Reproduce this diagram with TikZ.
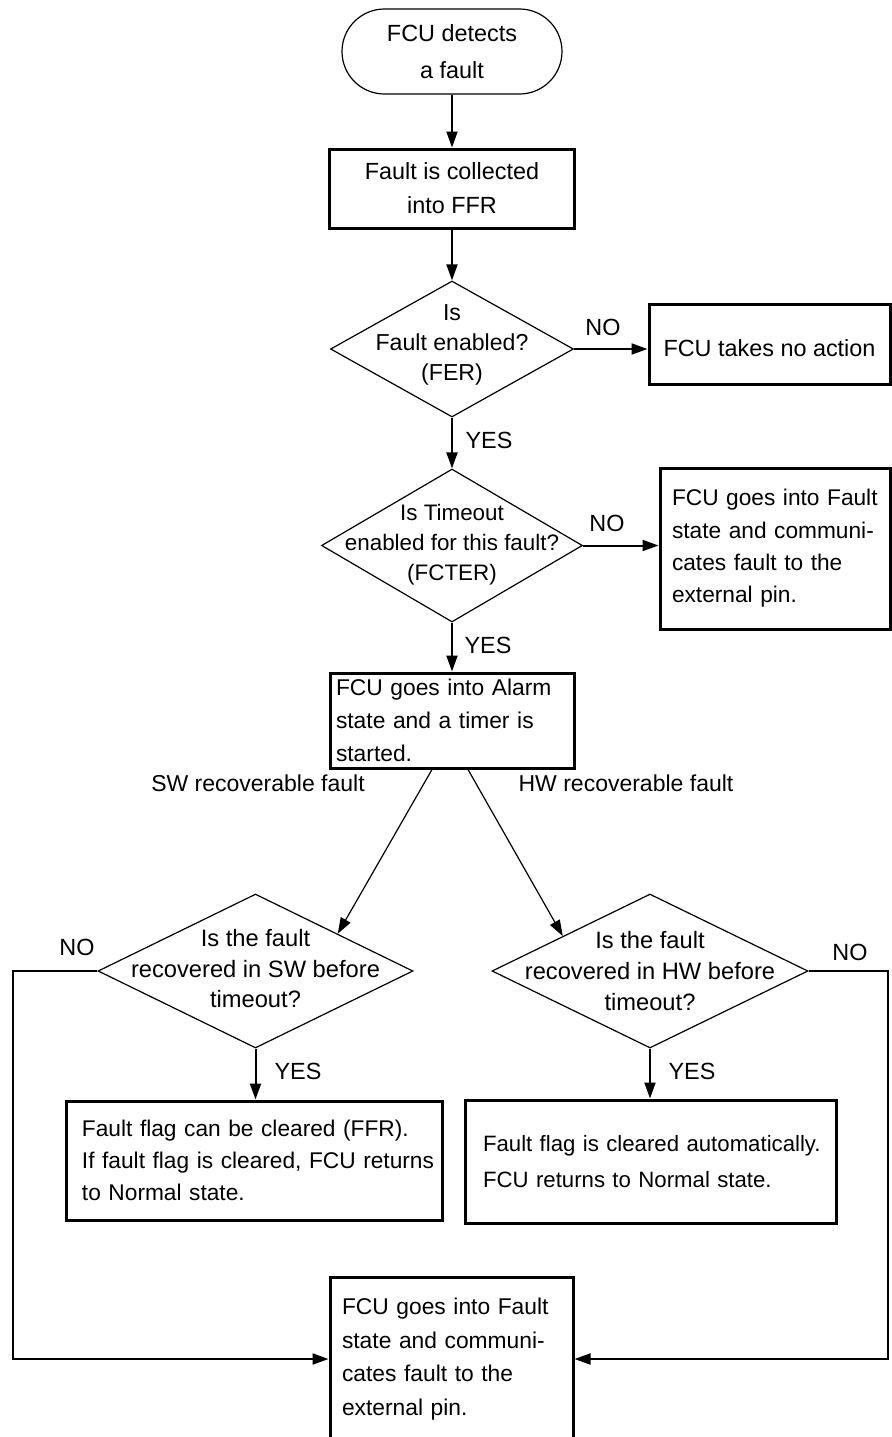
\documentclass[tikz,border=0pt]{standalone}
\usepackage{fontspec}
\setmainfont{Liberation Sans}
\usetikzlibrary{shapes.geometric,shapes.misc,arrows.meta,calc}
\begin{document}
\begin{tikzpicture}[x=0.5pt,y=-0.5pt,
  txt/.style 2 args={font=\fontsize{#1}{#2}\selectfont},
  term/.style={rounded rectangle, draw, line width=0.6pt, inner sep=0pt, align=center},
  procbox/.style={rectangle, draw, line width=1.5pt, inner sep=0pt},
  dia/.style={diamond, draw, line width=0.6pt, inner sep=0pt},
  arr/.style={-{Triangle[length=8pt,width=5.5pt]}, line width=1pt},
  tarr/.style={-{Triangle[length=8pt,width=5.5pt]}, line width=0.6pt},
  lab/.style={inner sep=0pt, font=\fontsize{11.7pt}{14pt}\selectfont}]
\fill[white] (0,0) rectangle (892,1437);
\useasboundingbox (0,0) rectangle (892,1437);

% nodes
\node[term, txt={11.7pt}{18.5pt}, minimum width=110pt, minimum height=42.5pt] (start) at (452,51.5) {FCU detects\\a fault};
\node[procbox, txt={11.7pt}{17pt}, align=center, minimum width=122.5pt, minimum height=39.5pt] (collect) at (452,188.5) {Fault is collected\\into FFR};
\node[dia, minimum width=121.5pt, minimum height=68pt,
  label={[txt={11.55pt}{15pt}, align=center, yshift=2pt]center:Is\\Fault enabled?\\(FER)}] (fer) at (452,349) {};
\node[procbox, txt={11.7pt}{14pt}, text height=12.4pt, minimum width=120.5pt, minimum height=40pt] (noact) at (769.5,344) {FCU takes no action};
\node[dia, minimum width=130.5pt, minimum height=76.5pt,
  label={[txt={11.2pt}{15pt}, align=center, yshift=0.5pt]center:Is Timeout\\enabled for this fault?\\(FCTER)}] (fcter) at (452,545.5) {};
\node[procbox, txt={11.35pt}{16.2pt}, align=left, text width=103pt, inner xsep=6pt, minimum height=80.5pt] (fault1) at (775,548.5) {\mbox{FCU goes into Fault}\\\mbox{state and communi-}\\\mbox{cates fault to the}\\\mbox{external pin.}};
\node[procbox, txt={11.4pt}{16.5pt}, align=left, text width=116pt, inner xsep=3pt, minimum height=47.5pt] (alarm) at (452,720.5) {\mbox{FCU goes into Alarm}\\\mbox{state and a timer is}\\started.};
\node[dia, minimum width=157.5pt, minimum height=77pt,
  label={[txt={11.85pt}{15.25pt}, align=center, yshift=1pt]center:Is the fault\\recovered in SW before\\timeout?}] (swq) at (255.5,971) {};
\node[dia, minimum width=158pt, minimum height=77pt,
  label={[txt={11.85pt}{15.5pt}, align=center]center:Is the fault\\recovered in HW before\\timeout?}] (hwq) at (650,971) {};
\node[procbox, txt={11.35pt}{16pt}, align=left, text width=172pt, inner xsep=8pt, minimum height=59.5pt] (swbox) at (254,1160.5) {\mbox{Fault flag can be cleared (FFR).}\\\mbox{If fault flag is cleared, FCU returns}\\\mbox{to Normal state.}};
\node[procbox, txt={11.1pt}{18pt}, align=left, text width=167.5pt, inner xsep=9pt, minimum height=61.5pt] (hwbox) at (650.5,1161.5) {\mbox{Fault flag is cleared automatically.}\\\mbox{FCU returns to Normal state.}};
\node[procbox, txt={11.4pt}{16.75pt}, align=left, text width=109.5pt, inner xsep=6pt, minimum height=82pt] (fault2) at (451.5,1359) {\mbox{FCU goes into Fault}\\\mbox{state and communi-}\\\mbox{cates fault to the}\\\mbox{external pin.}};

% labels
\node[lab] (no1) at (603,327) {NO};
\node[lab] (yes1) at (489,440) {YES};
\node[lab] (no2) at (607,523) {NO};
\node[lab] (yes2) at (488,645) {YES};
\node[lab, txt={11.5pt}{14pt}] (swlab) at (258,783) {SW recoverable fault};
\node[lab, txt={11.5pt}{14pt}] (hwlab) at (626,783) {HW recoverable fault};
\node[lab] (no3) at (77,947) {NO};
\node[lab] (yes3) at (298,1071) {YES};
\node[lab] (yes4) at (692,1071) {YES};
\node[lab] (no4) at (850,952) {NO};

\coordinate (lrail) at (13,971);
\coordinate (rrail) at (888,971);

% connectors
\draw[arr] (start.south) -- (start.south |- collect.north);
\draw[arr] (collect.south) -- (fer.north);
\draw[arr] (fer.east) -- (fer.east -| noact.west);
\draw[arr] (fer.south) -- (fcter.north);
\draw[arr] (fcter.east) -- (fcter.east -| fault1.west);
\draw[arr] (fcter.south) -- (alarm.north);
\draw[tarr] ($(alarm.south)+(-20,0)$) -- ($(swq.north)!0.52!(swq.east)$);
\draw[tarr] ($(alarm.south)+(16,0)$) -- ($(hwq.north)!0.55!(hwq.west)$);
\draw[arr] (swq.south) -- (swq.south |- swbox.north);
\draw[arr] (hwq.south) -- (hwq.south |- hwbox.north);
\draw[arr] (swq.west) -- (lrail) |- (fault2.west);
\draw[arr] (hwq.east) -- (rrail) |- (fault2.east);
\end{tikzpicture}
\end{document}
